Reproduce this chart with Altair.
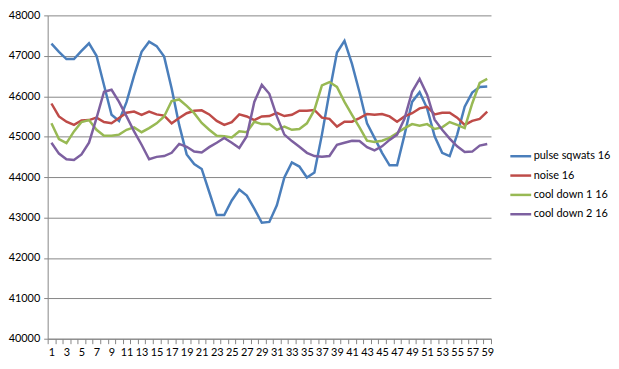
import altair as alt
import pandas as pd

x_vals = list(range(1, 60))

pulse = [47300, 47100, 46920, 46920, 47120, 47310, 47000, 46270, 45540, 45390,
         45860, 46510, 47100, 47350, 47240, 46980, 46190, 45290, 44560, 44320,
         44200, 43630, 43060, 43060, 43420, 43690, 43540, 43220, 42870, 42890,
         43300, 43990, 44360, 44260, 43990, 44110, 45050, 46100, 47080, 47370,
         46800, 46100, 45330, 44970, 44600, 44290, 44290, 45050, 45860, 46100,
         45700, 45010, 44600, 44520, 45050, 45740, 46090, 46230, 46240]

noise = [45820, 45500, 45370, 45290, 45400, 45410, 45470, 45360, 45330, 45460,
         45590, 45620, 45540, 45620, 45550, 45520, 45330, 45460, 45580, 45640,
         45650, 45550, 45390, 45290, 45360, 45550, 45500, 45410, 45500, 45510,
         45590, 45510, 45540, 45640, 45640, 45660, 45470, 45440, 45250, 45370,
         45370, 45460, 45560, 45540, 45560, 45500, 45370, 45500, 45580, 45700,
         45740, 45550, 45590, 45590, 45470, 45290, 45390, 45440, 45620]

cool1 = [45330, 44940, 44840, 45130, 45360, 45410, 45170, 45020, 45020, 45050,
         45170, 45230, 45110, 45210, 45330, 45500, 45880, 45920, 45760, 45580,
         45340, 45170, 45020, 45010, 44980, 45130, 45110, 45370, 45310, 45310,
         45170, 45250, 45170, 45190, 45330, 45660, 46270, 46350, 46230, 45860,
         45540, 45230, 44900, 44870, 44900, 44970, 45090, 45210, 45310, 45270,
         45310, 45190, 45230, 45360, 45290, 45210, 45820, 46330, 46430]

cool2 = [44850, 44580, 44440, 44420, 44560, 44850, 45460, 46110, 46160, 45860,
         45500, 45130, 44800, 44440, 44500, 44520, 44600, 44820, 44750, 44630,
         44610, 44740, 44850, 44970, 44850, 44720, 45010, 45860, 46280, 46060,
         45500, 45050, 44890, 44750, 44600, 44520, 44500, 44520, 44800, 44850,
         44900, 44890, 44740, 44660, 44760, 44920, 45050, 45450, 46110, 46430,
         46040, 45420, 45170, 44950, 44760, 44620, 44630, 44780, 44820]

series_names = ["pulse sqwats 16", "noise 16", "cool down 1 16", "cool down 2 16"]
series_colors = ["#4A7EBB", "#BE4B48", "#98B954", "#7D60A0"]
y_ticks = list(range(40000, 48001, 1000))

rows = []
for name, vals in zip(series_names, [pulse, noise, cool1, cool2]):
    for xv, yv in zip(x_vals, vals):
        rows.append({"x": xv, "value": yv, "series": name})
df = pd.DataFrame(rows)

font = "Lato"
tick_vals = [i + 0.5 for i in range(0, 60)]

chart = alt.Chart(df).mark_line(strokeWidth=2.5).encode(
    x=alt.X("x:Q",
            scale=alt.Scale(domain=[0.5, 59.5], nice=False, zero=False),
            axis=alt.Axis(values=tick_vals, title=None, grid=False,
                          labelExpr="(datum.value + 0.5) % 2 == 1 ? '' + (datum.value + 0.5) : ''",
                          labelOffset=3.77, labelOverlap=False, labelFlush=False,
                          tickSize=5, labelPadding=3, tickColor="#868686",
                          domainColor="#868686", labelFont=font, labelFontSize=11,
                          labelColor="#000000")),
    y=alt.Y("value:Q",
            scale=alt.Scale(domain=[40000, 48000], nice=False, zero=False),
            axis=alt.Axis(values=y_ticks, title=None, grid=True, gridColor="#868686",
                          tickSize=4, labelPadding=4, tickColor="#868686",
                          domainColor="#868686", labelFont=font, labelFontSize=11,
                          labelColor="#000000", format="d")),
    color=alt.Color("series:N",
                    scale=alt.Scale(domain=series_names, range=series_colors),
                    legend=alt.Legend(title=None, orient="none", legendX=465, legendY=130,
                                      symbolType="stroke", symbolSize=441,
                                      symbolStrokeWidth=2.5, labelFont=font,
                                      labelFontSize=11, labelColor="#000000",
                                      rowPadding=2.5, labelOffset=1, labelLimit=200)),
).properties(
    width=447, height=326,
    padding={"left": 0, "top": 0, "right": 0, "bottom": 0},
).configure_view(stroke=None)

chart.save("out.html", embed_options={"renderer": "svg", "actions": False})
